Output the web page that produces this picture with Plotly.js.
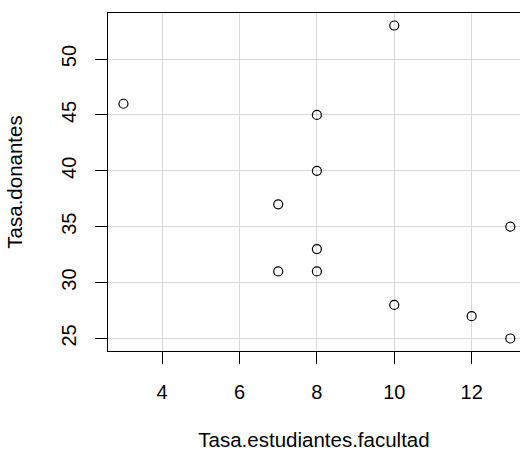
<!DOCTYPE html>
<html><head><meta charset="utf-8">
<script src="https://cdn.plot.ly/plotly-3.0.1.min.js"></script>
<style>html,body{margin:0;padding:0;background:#fff;}#chart{width:520px;height:452px;}</style>
</head><body><div id="chart"></div>
<script>
const tasaEstudiantesFacultad = [3, 8, 10, 8, 7, 13, 8, 7, 8, 10, 12, 13];
const tasaDonantes = [46, 45, 53, 40, 37, 35, 33, 31, 31, 28, 27, 25];
const xTicks = [4, 6, 8, 10, 12];
const yTicks = [25, 30, 35, 40, 45, 50];

const font = {family: 'Liberation Sans, Arial, sans-serif', size: 20, color: '#000'};
const titleFont = {family: 'Liberation Sans, Arial, sans-serif', size: 20.5, color: '#000'};
const trace = {
  x: tasaEstudiantesFacultad, y: tasaDonantes, type: 'scatter', mode: 'markers',
  marker: {symbol: 'circle-open', size: 9, color: '#000', line: {width: 1.2, color: '#000'}},
  hoverinfo: 'skip'
};
const layout = {
  width: 520, height: 452,
  margin: {l: 108, r: 0, t: 13, b: 101},
  paper_bgcolor: '#fff', plot_bgcolor: '#fff',
  showlegend: false, font: font,
  xaxis: {
    range: [2.6, 13.25], tickvals: xTicks, ticktext: xTicks.map(String),
    showgrid: true, gridcolor: '#d9d9d9', gridwidth: 1,
    zeroline: false, showline: true, linecolor: '#000', linewidth: 1, mirror: true,
    ticks: 'outside', ticklen: 12, tickcolor: '#000', tickwidth: 1,
    tickfont: font, ticklabelstandoff: 11,
    title: {text: 'Tasa.estudiantes.facultad', font: titleFont, standoff: 30}
  },
  yaxis: {
    range: [23.88, 54.12], tickvals: yTicks, ticktext: yTicks.map(String),
    showgrid: true, gridcolor: '#d9d9d9', gridwidth: 1,
    zeroline: false, showline: true, linecolor: '#000', linewidth: 1, mirror: false,
    ticks: 'outside', ticklen: 12, tickcolor: '#000', tickwidth: 1,
    tickfont: font, tickangle: -90, ticklabelstandoff: 11,
    title: {text: 'Tasa.donantes', font: titleFont, standoff: 29}
  }
};
Plotly.newPlot('chart', [trace], layout, {displayModeBar: false, staticPlot: true});
</script></body></html>
